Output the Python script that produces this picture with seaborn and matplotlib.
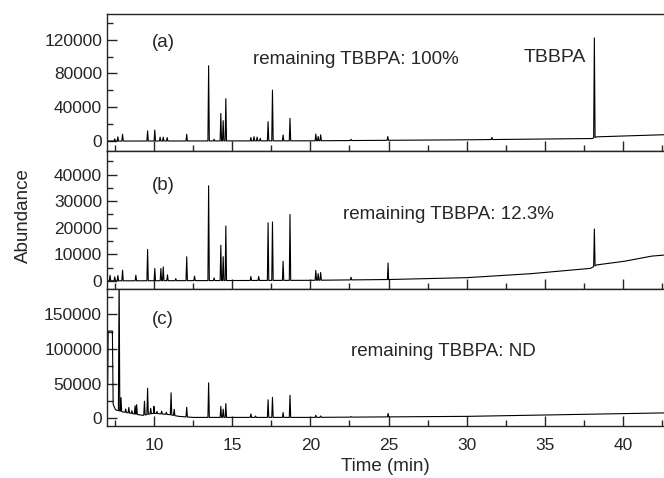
import numpy as np
import pandas as pd
import matplotlib.pyplot as plt
import seaborn as sns
from matplotlib.ticker import MultipleLocator

# retention times (min) and peak heights
peaks_a_t = [7.5, 7.7, 8.0, 9.6, 10.06, 10.4, 10.6, 10.85, 12.1, 13.5, 13.85, 14.28, 14.43, 14.6,
             16.2, 16.4, 16.6, 16.8, 17.3, 17.58, 18.26, 18.7, 20.35, 20.5, 20.66, 22.6, 24.95,
             31.6, 38.15]
peaks_a_h = [2500, 5000, 8000, 12000, 13000, 4500, 4500, 4000, 8000, 89000, 2000, 32500, 24000, 50000,
             4000, 5000, 4500, 3000, 22700, 60000, 7000, 26700, 8000, 5000, 7000, 1500, 4500,
             2500, 118000]
base_a_t = [7.0, 20.0, 30.0, 38.0, 38.3, 42.6]
base_a_y = [0, 300, 1500, 3000, 5000, 7500]

peaks_b_t = [7.2, 7.5, 7.7, 8.0, 8.85, 9.6, 10.06, 10.45, 10.6, 10.87, 11.4, 12.1, 12.6, 13.5, 13.85,
             14.28, 14.43, 14.6, 16.2, 16.7, 17.3, 17.58, 18.26, 18.7, 20.35, 20.5, 20.66, 22.6,
             24.97, 38.15]
peaks_b_h = [2100, 1500, 2000, 4000, 2100, 11800, 4600, 4600, 5200, 2200, 800, 9000, 1700, 35700, 1000,
             13300, 9000, 20500, 1500, 1500, 21700, 22000, 7200, 24800, 3700, 2500, 2900, 1000,
             6200, 14000]
base_b_t = [7.0, 20.0, 25.0, 30.0, 34.1, 37.9, 38.3, 40.1, 41.8, 42.6]
base_b_y = [0, 200, 500, 1200, 2700, 4700, 6000, 7400, 9300, 9700]

peaks_c_t = [7.78, 7.9, 8.2, 8.4, 8.6, 8.8, 8.9, 9.4, 9.6, 9.8, 10.0, 10.2, 10.5, 10.8, 11.1,
             11.3, 12.1, 13.5, 14.28, 14.43, 14.6, 16.2, 16.5, 17.3, 17.58, 18.26, 18.7,
             20.35, 20.66, 22.6, 24.97]
peaks_c_h = [200000, 20000, 5000, 8000, 4000, 12000, 14000, 20000, 38000, 8000, 10000, 3000, 4000, 3000, 32000,
             9000, 14000, 50000, 16000, 12000, 20000, 5000, 2000, 25500, 29000, 7000, 32000,
             3000, 2000, 800, 5000]
base_c_t = [7.0, 7.05, 7.08, 7.35, 7.4, 7.55, 8.0, 9.0, 9.3, 10.0, 11.0, 11.6, 12.5, 20.0, 30.0, 42.6]
base_c_y = [45000, 50000, 126000, 126000, 20000, 12000, 9000, 5000, 4000, 7000, 5000, 2500, 1000, 1000, 2500, 7500]

panel_tags = ['(a)', '(b)', '(c)']
notes = ['remaining TBBPA: 100%', 'remaining TBBPA: 12.3%', 'remaining TBBPA: ND']


def trace(pt, ph, bt, by, w=0.045):
    t = list(bt)
    y = list(by)
    for c, h in zip(pt, ph):
        b = np.interp(c, bt, by)
        t += [c - w, c, c + w]
        y += [np.interp(c - w, bt, by), b + h, np.interp(c + w, bt, by)]
    df = pd.DataFrame({'Time': t, 'Abundance': y}).sort_values('Time')
    return df


sns.set_style('ticks')
plt.rcParams['font.family'] = ['Liberation Sans', 'DejaVu Sans']
plt.rcParams['font.size'] = 12.5

fig, axes = plt.subplots(3, 1, figsize=(6.64, 4.78), dpi=100, sharex=True,
                         gridspec_kw={'hspace': 0})
fig.subplots_adjust(left=0.161, right=1.0, top=0.971, bottom=0.109)

data = [trace(peaks_a_t, peaks_a_h, base_a_t, base_a_y),
        trace(peaks_b_t, peaks_b_h, base_b_t, base_b_y),
        trace(peaks_c_t, peaks_c_h, base_c_t, base_c_y)]
ylims = [(-12000, 150500), (-2900, 48800), (-11300, 187500)]
majors = [40000, 10000, 50000]
note_pos = [(22.9, 96500), (28.8, 24800), (28.5, 96400)]
tag_y = [116500, 35900, 142000]

for i, ax in enumerate(axes):
    sns.lineplot(data=data[i], x='Time', y='Abundance', ax=ax, color='black',
                 linewidth=0.8, estimator=None, sort=False)
    ax.set_xlim(7, 42.6)
    ax.set_ylim(*ylims[i])
    ax.yaxis.set_major_locator(MultipleLocator(majors[i]))
    ax.yaxis.set_minor_locator(MultipleLocator(majors[i] / 2))
    ax.xaxis.set_major_locator(MultipleLocator(5))
    ax.xaxis.set_minor_locator(MultipleLocator(2.5))
    ax.tick_params(which='both', direction='in', top=False, right=False, labelsize=12.5)
    ax.tick_params(which='major', length=7, width=1)
    ax.tick_params(which='minor', length=4, width=1)
    ax.tick_params(axis='x', pad=9)
    ax.spines['right'].set_visible(False)
    for s in ['top', 'bottom', 'left']:
        ax.spines[s].set_linewidth(1)
    ax.set_ylabel('')
    ax.set_xlabel('')
    ax.text(10.6, tag_y[i], panel_tags[i], ha='center', va='center', fontsize=13.5)
    ax.text(note_pos[i][0], note_pos[i][1], notes[i], ha='center', va='center', fontsize=13.5)

axes[0].text(35.6, 99000, 'TBBPA', ha='center', va='center', fontsize=14)
axes[2].set_xlabel('Time (min)', fontsize=13.5, labelpad=3)
fig.text(0.035, 0.55, 'Abundance', rotation=90, ha='center', va='center', fontsize=13.5)

plt.savefig('out.png', dpi=100)
